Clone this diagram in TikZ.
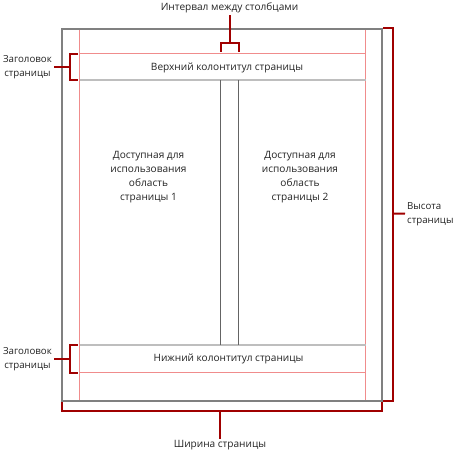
\documentclass[tikz,border=0pt]{standalone}
\usepackage{fontspec}
\setmainfont{Open Sans}
\usepackage{tikz}
\usetikzlibrary{positioning}
\definecolor{brkRed}{RGB}{160,0,0}
\definecolor{marginPink}{RGB}{240,140,140}
\definecolor{pageGray}{RGB}{128,128,128}
\definecolor{bandGray}{RGB}{190,190,190}
\definecolor{colGray}{RGB}{100,100,100}
\definecolor{txtGray}{RGB}{35,35,35}

\begin{document}
\begin{tikzpicture}[x=1pt,y=-1pt,
  page/.style={pageGray, line width=2pt},
  margin/.style={marginPink, line width=0.9pt},
  band/.style={bandGray, line width=1.8pt},
  gutter/.style={colGray, line width=0.9pt},
  bracket/.style={brkRed, line width=2pt, line join=miter},
  lbl/.style={text=txtGray, font=\fontsize{10.1}{13.8}\selectfont, align=center, inner sep=1pt},
  side/.style={lbl, font=\fontsize{9.7}{13.8}\selectfont, inner sep=2pt}]
\useasboundingbox (0,0) rectangle (456,453);

% page sheet and margins
\draw[margin] (79.5,29)--(79.5,401);
\draw[margin] (365.5,29)--(365.5,401);
\draw[margin] (79.5,53.5)--(365.5,53.5);
\draw[margin] (79.5,372.5)--(365.5,372.5);
\draw[band] (79.5,80)--(365.5,80);
\draw[band] (79.5,345)--(365.5,345);
\draw[gutter] (220.5,80)--(220.5,345);
\draw[gutter] (238.5,80)--(238.5,345);
\draw[page] (62,29) rectangle (382,401);

\node[lbl] (header) at (227,68) {Верхний колонтитул страницы};
\node[lbl] (footer) at (228.5,359) {Нижний колонтитул страницы};
\node[lbl] (colone) at (148.5,177) {Доступная для\\использования\\область\\страницы 1};
\node[lbl] (coltwo) at (300,177) {Доступная для\\использования\\область\\страницы 2};

% brackets
\coordinate (gapmid) at (229.5,42.5);
\node[lbl, anchor=south] (gaplbl) at (229.5,14.5) {Интервал между столбцами};
\draw[bracket] (220.5,51.5)--(220.5,42.5)--(238.5,42.5)--(238.5,51.5);
\draw[bracket] (gapmid)--(gaplbl);

\coordinate (hdrmid) at (69.5,67);
\node[side, anchor=east] (hdrlbl) at (54,67) {Заголовок\\страницы};
\draw[bracket] (78,53.5)--(69.5,53.5)--(69.5,80)--(78,80);
\draw[bracket] (hdrmid)--(hdrlbl);

\coordinate (ftrmid) at (69.5,359);
\node[side, anchor=east] (ftrlbl) at (54,359) {Заголовок\\страницы};
\draw[bracket] (78,345)--(69.5,345)--(69.5,372.5)--(78,372.5);
\draw[bracket] (ftrmid)--(ftrlbl);

\coordinate (htmid) at (392.5,213.5);
\node[side, anchor=west, align=left] (htlbl) at (405,214) {Высота\\страницы};
\draw[bracket] (383,27.5)--(392.5,27.5)--(392.5,401)--(383,401);
\draw[bracket] (htmid)--(htlbl);

\coordinate (wdmid) at (220,411);
\node[lbl, anchor=north] (wdlbl) at (220,439) {Ширина страницы};
\draw[bracket] (62,402)--(62,411)--(382,411)--(382,402);
\draw[bracket] (wdmid)--(wdlbl);
\end{tikzpicture}
\end{document}
